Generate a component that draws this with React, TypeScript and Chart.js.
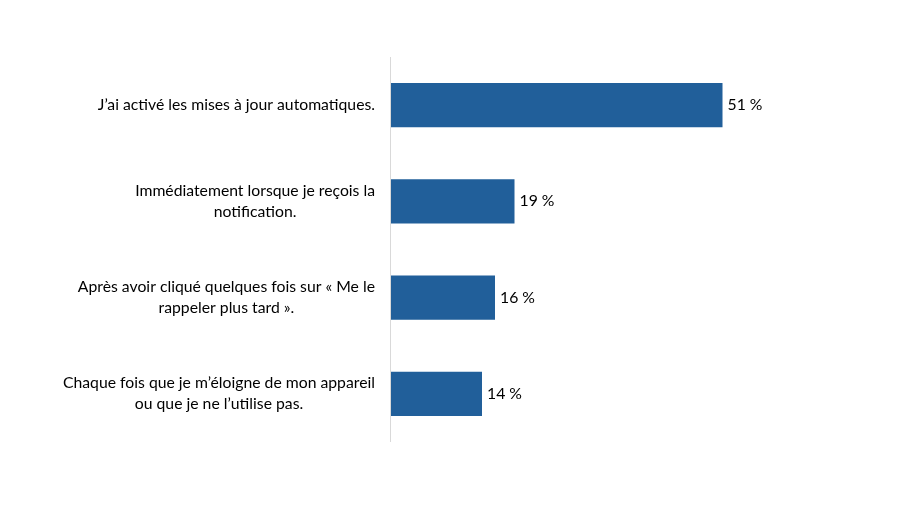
import React, { useEffect, useRef } from "react";
import { Chart, registerables } from "chart.js";

Chart.register(...registerables);

const categories: string[][] = [
  ["J’ai activé les mises à jour automatiques."],
  ["Immédiatement lorsque je reçois la", "notification."],
  ["Après avoir cliqué quelques fois sur « Me le", "rappeler plus tard »."],
  ["Chaque fois que je m’éloigne de mon appareil", "ou que je ne l’utilise pas."],
];
const values: number[] = [51, 19, 16, 14];
const valueLabels: string[] = ["51 %", "19 %", "16 %", "14 %"];

const FONT = "15.75px Lato";

const labelsPlugin = {
  id: "customLabels",
  afterDraw(chart: any) {
    const { ctx, chartArea } = chart;
    const yScale = chart.scales.y;
    const xScale = chart.scales.x;
    ctx.save();
    ctx.strokeStyle = "#d9d9d9";
    ctx.lineWidth = 1;
    ctx.beginPath();
    ctx.moveTo(chartArea.left - 0.5, chartArea.top);
    ctx.lineTo(chartArea.left - 0.5, chartArea.bottom);
    ctx.stroke();

    ctx.font = FONT;
    ctx.fillStyle = "#000000";
    ctx.textBaseline = "middle";
    const lineH = 21;
    categories.forEach((lines, i) => {
      const yc = yScale.getPixelForValue(i);
      const widths = lines.map((l) => ctx.measureText(l).width);
      const bw = Math.max(...widths);
      const cx = chartArea.left - 16 - bw / 2;
      ctx.textAlign = "center";
      lines.forEach((l, j) => {
        const y = yc + (j - (lines.length - 1) / 2) * lineH;
        ctx.fillText(l, cx, y);
      });
      ctx.textAlign = "left";
      const xe = xScale.getPixelForValue(values[i]);
      ctx.fillText(valueLabels[i], xe + 5, yc);
    });
    ctx.restore();
  },
};

export default function App() {
  const ref = useRef<HTMLCanvasElement | null>(null);
  useEffect(() => {
    if (!ref.current) return;
    const chart = new Chart(ref.current, {
      type: "bar",
      data: {
        labels: categories.map((c) => c.join(" ")),
        datasets: [
          {
            data: values,
            backgroundColor: "#215F9A",
            categoryPercentage: 1,
            barPercentage: 0.46,
          },
        ],
      },
      options: {
        indexAxis: "y",
        animation: false,
        responsive: false,
        layout: { padding: { left: 391, top: 57, bottom: 64, right: 54 } },
        plugins: { legend: { display: false }, tooltip: { enabled: false } },
        scales: {
          x: { display: false, min: 0, max: 70 },
          y: { display: false, offset: true },
        },
      },
      plugins: [labelsPlugin],
    });
    return () => chart.destroy();
  }, []);
  return (
    <div style={{ position: "fixed", left: 0, top: 0, width: 900, height: 506, background: "#fff" }}>
      <canvas ref={ref} width={900} height={506} style={{ width: 900, height: 506 }} />
    </div>
  );
}
